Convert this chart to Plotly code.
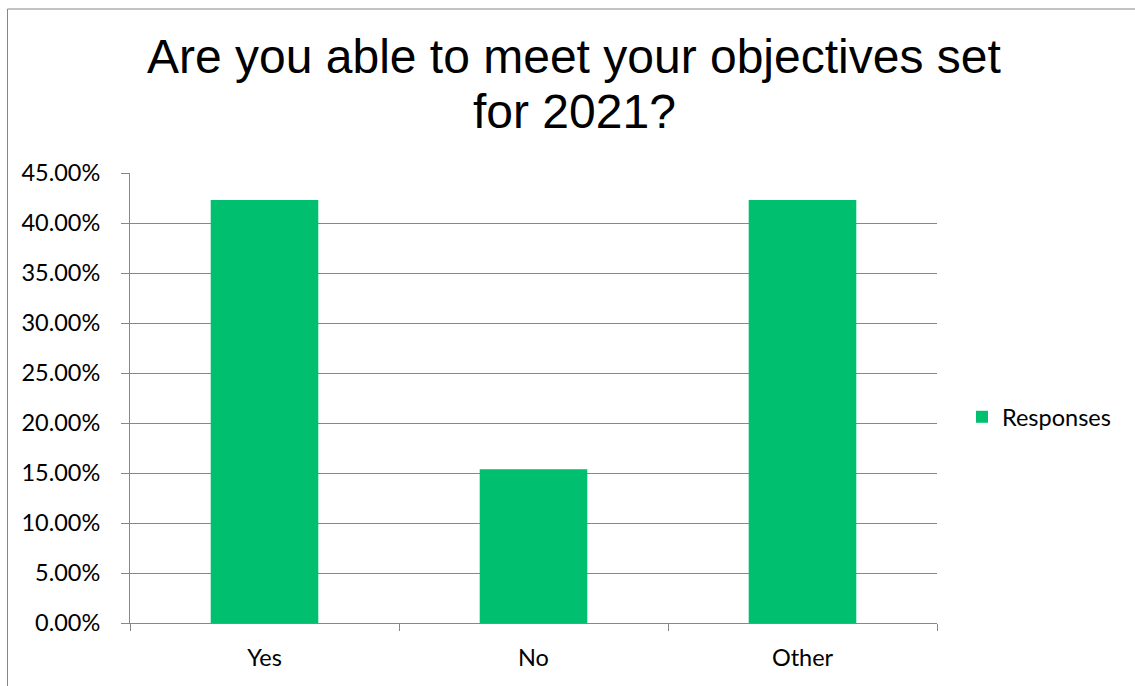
import plotly.graph_objects as go

# Survey results
categories = ["Yes", "No", "Other"]
responses = [0.4231, 0.1538, 0.4231]
series_name = "Responses"
title_lines = ["Are you able to meet your objectives set", "for 2021?"]

W, H = 1135, 686
L, R, T, B = 130, 198, 173, 63
pw, ph = W - L - R, H - T - B

def px_x(p):
    return (p - L) / pw

def px_y(p):
    return (H - B - p) / ph

fig = go.Figure()
fig.add_trace(go.Bar(
    x=categories, y=responses, name=series_name,
    marker=dict(color="#00BF6F", line=dict(width=0)),
    width=0.4, showlegend=True,
))

grid = "#878787"
tick_font = dict(family="Lato, Carlito, Calibri", size=23.5, color="black")

# Two-line heading, each line placed on its own
title_annotations = [
    dict(text=line, xref="paper", yref="paper", x=px_x(574), y=px_y(yc),
         xanchor="center", yanchor="middle", showarrow=False,
         font=dict(family="Liberation Sans, Arial", size=48, color="black"))
    for line, yc in zip(title_lines, [57, 112])
]

fig.update_layout(
    width=W, height=H,
    margin=dict(l=L, r=R, t=T, b=B),
    paper_bgcolor="white", plot_bgcolor="white",
    font=tick_font,
    legend=dict(x=px_x(962), y=px_y(417), xanchor="left", yanchor="middle",
                font=tick_font, bgcolor="rgba(0,0,0,0)"),
    bargap=0.6,
    annotations=title_annotations,
    shapes=[
        dict(type="rect", xref="paper", yref="paper",
             x0=px_x(7.5), x1=px_x(1145), y0=px_y(9), y1=px_y(700),
             line=dict(color="#868686", width=1), layer="below"),
    ],
)
fig.update_xaxes(
    type="category", showline=True, linecolor=grid, linewidth=1,
    ticks="outside", tickson="boundaries", ticklen=7, tickcolor=grid,
    showgrid=False, tickfont=tick_font, ticklabelstandoff=14,
)
fig.update_yaxes(
    range=[0, 0.45], dtick=0.05, tickformat=".2%",
    showline=True, linecolor=grid, linewidth=1,
    ticks="outside", ticklen=8, tickcolor=grid,
    showgrid=True, gridcolor=grid, gridwidth=1, zeroline=False,
    tickfont=tick_font, ticklabelstandoff=16,
)

fig.write_html("out.html")
